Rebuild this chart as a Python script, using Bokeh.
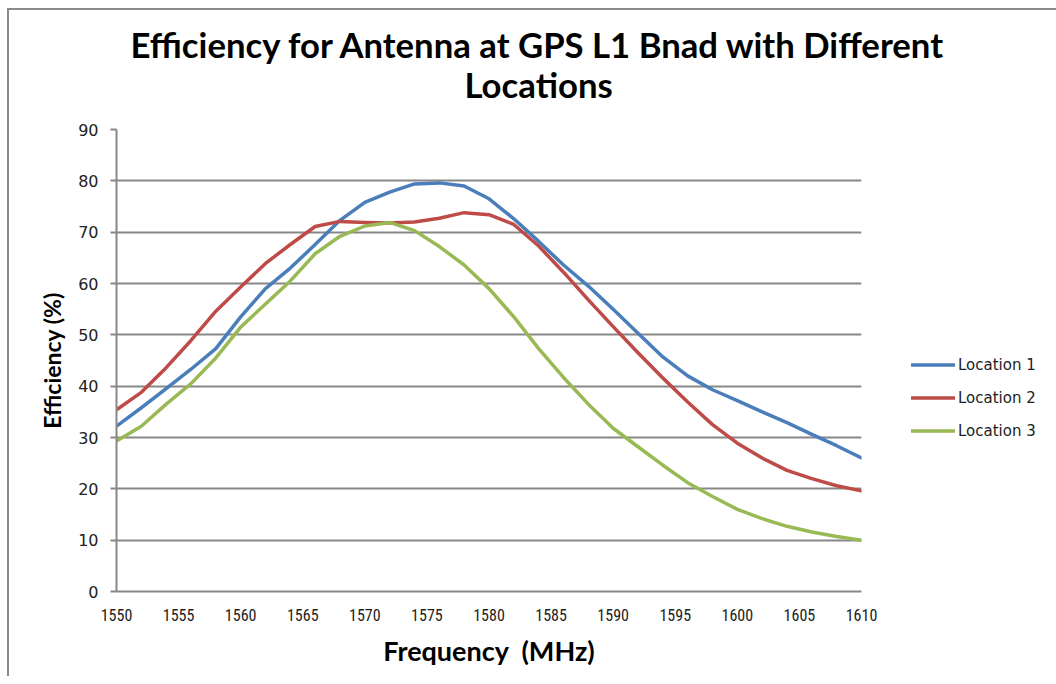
from bokeh.plotting import figure
from bokeh.models import Legend, LegendItem, Range1d, FixedTicker, Title
from bokeh.embed import file_html
from bokeh.resources import INLINE

# ---- data ----
freq = [1550, 1552, 1554, 1556, 1558, 1560, 1562, 1564, 1566, 1568, 1570,
        1572, 1574, 1576, 1578, 1580, 1582, 1584, 1586, 1588, 1590,
        1592, 1594, 1596, 1598, 1600, 1602, 1604, 1606, 1608, 1610]
location1 = [32.2, 35.8, 39.5, 43.3, 47.3, 53.5, 59.0, 63.0, 67.6, 72.3, 75.8,
             77.8, 79.4, 79.6, 79.0, 76.5, 72.6, 68.2, 63.6, 59.5, 55.0,
             50.3, 45.7, 42.0, 39.3, 37.2, 35.0, 32.9, 30.6, 28.4, 26.0]
location2 = [35.4, 38.8, 43.6, 48.9, 54.6, 59.3, 63.9, 67.6, 71.1, 72.1, 71.9,
             71.8, 72.0, 72.7, 73.8, 73.4, 71.5, 67.3, 62.2, 56.8, 51.6,
             46.5, 41.6, 36.9, 32.5, 28.9, 26.0, 23.6, 22.0, 20.6, 19.6]
location3 = [29.3, 32.2, 36.5, 40.5, 45.5, 51.5, 56.0, 60.5, 65.8, 69.2, 71.2,
             71.9, 70.3, 67.2, 63.6, 59.0, 53.5, 47.3, 41.7, 36.5, 31.8,
             28.2, 24.6, 21.2, 18.5, 16.0, 14.2, 12.7, 11.6, 10.7, 10.0]
series_names = ["Location 1", "Location 2", "Location 3"]
series_colors = ["#4A7EBB", "#BE4B48", "#98B954"]
x_ticks = list(range(1550, 1611, 5))
y_ticks = list(range(0, 91, 10))
title_lines = ["Efficiency for Antenna at GPS L1 Bnad with Different", "Locations"]

NARROW = "'Liberation Sans Narrow', 'Roboto Condensed', 'Open Sans'"
BOLDF = "Lato"
GRID = "#878787"

p = figure(frame_width=745, frame_height=462, output_backend="svg", toolbar_location=None,
           x_range=Range1d(1550, 1610), y_range=Range1d(0, 90),
           min_border_left=107, min_border_right=187, min_border_top=119,
           min_border_bottom=85)
p.styles = {"margin-left": "7px", "margin-top": "8px",
            "border-top": "2px solid #8a8a8a", "border-left": "2px solid #8a8a8a"}
p.outline_line_color = None
p.background_fill_color = "white"
p.border_fill_color = "white"

# grid
p.xgrid.grid_line_color = None
p.ygrid.grid_line_color = GRID
p.ygrid.grid_line_width = 2
p.ygrid.ticker = FixedTicker(ticks=y_ticks)

# axes
p.xaxis.ticker = FixedTicker(ticks=x_ticks)
p.yaxis.ticker = FixedTicker(ticks=y_ticks)
for ax in (p.xaxis[0], p.yaxis[0]):
    ax.axis_line_color = GRID
    ax.axis_line_width = 2
    ax.major_tick_line_color = GRID
    ax.major_tick_line_width = 2
    ax.minor_tick_line_color = None
    ax.major_tick_in = 0
    ax.major_label_text_color = "#222222"
    ax.axis_label_text_color = "black"
    ax.axis_label_text_font_style = "bold"
    ax.axis_label_text_font = BOLDF
p.xaxis.major_tick_out = 0
p.xaxis.major_label_standoff = 17
p.xaxis.major_label_text_font = NARROW
p.xaxis.major_label_text_font_size = "16px"
p.xaxis.axis_label = "Frequency\u00a0\u00a0(MHz)"
p.xaxis.axis_label_text_font_size = "27px"
p.xaxis.axis_label_standoff = 10

p.yaxis.major_tick_out = 6
p.yaxis.major_label_standoff = 12
p.yaxis.major_label_text_font = "DejaVu Sans"
p.yaxis.major_label_text_font_size = "16px"
p.yaxis.axis_label = "Efficiency (%)"
p.yaxis.axis_label_text_font_size = "23px"
p.yaxis.axis_label_standoff = 9

# lines
renderers = []
for ys, c in zip([location1, location2, location3], series_colors):
    r = p.line(freq, ys, line_color=c, line_width=3.5, line_join="round", line_cap="round")
    renderers.append(r)

legend = Legend(items=[LegendItem(label=n, renderers=[r]) for n, r in zip(series_names, renderers)],
                location=(50, 150), margin=0, padding=0, glyph_width=44, glyph_height=21,
                label_height=21, spacing=12, label_standoff=3,
                label_text_font="DejaVu Sans", label_text_font_size="15px",
                label_text_color="#222222", border_line_color=None,
                background_fill_alpha=0)
p.add_layout(legend, "right")

# title: two lines stacked above the frame (first added is nearest the frame)
p.add_layout(Title(text=title_lines[1], align="left", offset=348, standoff=50,
                   text_font=BOLDF, text_font_style="bold", text_font_size="34.7px",
                   text_color="black"), "above")
p.add_layout(Title(text=title_lines[0], align="left", offset=14, standoff=-56,
                   text_font=BOLDF, text_font_style="bold", text_font_size="34.7px",
                   text_color="black"), "above")

open("out.html", "w").write(file_html(p, INLINE))
